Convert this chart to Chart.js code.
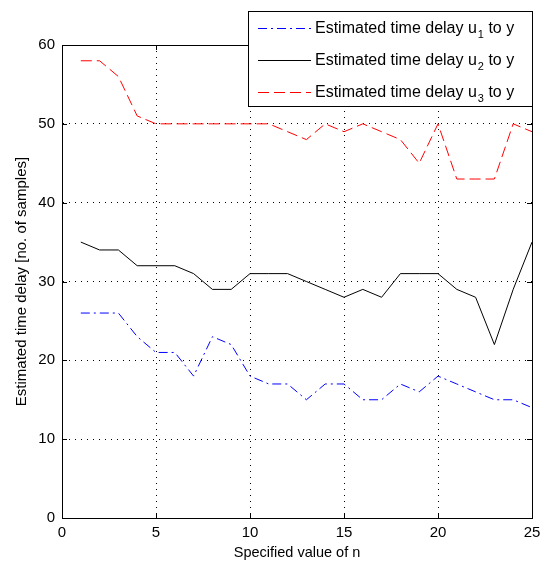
<!DOCTYPE html>
<html>
<head>
<meta charset="utf-8">
<script src="https://cdn.jsdelivr.net/npm/chart.js@4/dist/chart.umd.min.js"></script>
<style>
  html, body { margin: 0; padding: 0; background: #fff; }
  canvas { display: block; }
</style>
</head>
<body>
<canvas id="delayChart" width="549" height="566"></canvas>
<script>
// specified value of n
const nValues = [1, 2, 3, 4, 5, 6, 7, 8, 9, 10, 11, 12, 13, 14, 15, 16, 17, 18, 19, 20, 21, 22, 23, 24, 25];

// estimated time delays (no. of samples)
const delayU1 = [26, 26, 26, 23, 21, 21, 18, 23, 22, 18, 17, 17, 15, 17, 17, 15, 15, 17, 16, 18, 17, 16, 15, 15, 14];
const delayU2 = [35, 34, 34, 32, 32, 32, 31, 29, 29, 31, 31, 31, 30, 29, 28, 29, 28, 31, 31, 31, 29, 28, 22, 29, 35];
const delayU3 = [58, 58, 56, 51, 50, 50, 50, 50, 50, 50, 50, 49, 48, 50, 49, 50, 49, 48, 45, 50, 43, 43, 43, 50, 49];

const xTicks = [0, 5, 10, 15, 20, 25];
const yTicks = [0, 10, 20, 30, 40, 50, 60];

const FONT = 'Liberation Sans, Arial, Helvetica, sans-serif';

function toPoints(values) {
    return values.map((v, i) => ({ x: nValues[i], y: v }));
}

const seriesInfo = [
    { sub: '1', color: '#0000ff', dash: [9, 4, 2, 4] },
    { sub: '2', color: '#000000', dash: [] },
    { sub: '3', color: '#ff0000', dash: [11, 5] }
];

// box round the plot with inward tick marks (MATLAB style)
const boxPlugin = {
    id: 'boxPlugin',
    beforeDatasetsDraw(chart) {
        const { ctx, chartArea: a, scales } = chart;
        ctx.save();
        ctx.strokeStyle = '#000';
        ctx.lineWidth = 1;
        ctx.setLineDash([]);
        ctx.strokeRect(Math.round(a.left) + 0.5, Math.round(a.top) + 0.5,
            Math.round(a.right - a.left), Math.round(a.bottom - a.top));
        ctx.beginPath();
        xTicks.forEach(t => {
            const x = Math.round(scales.x.getPixelForValue(t)) + 0.5;
            ctx.moveTo(x, a.bottom); ctx.lineTo(x, a.bottom - 5);
            ctx.moveTo(x, a.top); ctx.lineTo(x, a.top + 5);
        });
        yTicks.forEach(t => {
            const y = Math.round(scales.y.getPixelForValue(t)) + 0.5;
            ctx.moveTo(a.left, y); ctx.lineTo(a.left + 5, y);
            ctx.moveTo(a.right, y); ctx.lineTo(a.right - 5, y);
        });
        ctx.stroke();
        ctx.restore();
    }
};

// legend box with subscripted labels
const legendPlugin = {
    id: 'subLegend',
    afterDraw(chart) {
        const ctx = chart.ctx;
        const bx = 248.5, by = 11.5, bw = 284, bh = 95;
        ctx.save();
        ctx.fillStyle = '#fff';
        ctx.fillRect(bx, by, bw, bh);
        ctx.strokeStyle = '#000';
        ctx.lineWidth = 1;
        ctx.strokeRect(bx, by, bw, bh);
        seriesInfo.forEach((s, i) => {
            const y = 28 + i * 32;
            ctx.strokeStyle = s.color;
            ctx.setLineDash(s.dash);
            ctx.beginPath();
            ctx.moveTo(258, y + 0.5);
            ctx.lineTo(311, y + 0.5);
            ctx.stroke();
            ctx.setLineDash([]);
            ctx.fillStyle = '#000';
            ctx.textBaseline = 'alphabetic';
            ctx.font = '16px ' + FONT;
            let x = 315;
            const base = y + 5;
            const main = 'Estimated time delay u';
            ctx.fillText(main, x, base);
            x += ctx.measureText(main).width + 1;
            ctx.font = '11px ' + FONT;
            ctx.fillText(s.sub, x, base + 5);
            x += ctx.measureText(s.sub).width;
            ctx.font = '16px ' + FONT;
            ctx.fillText(' to y', x, base);
        });
        ctx.restore();
    }
};

const datasets = [delayU1, delayU2, delayU3].map((vals, i) => ({
    label: 'Estimated time delay u' + seriesInfo[i].sub + ' to y',
    data: toPoints(vals),
    borderColor: seriesInfo[i].color,
    borderDash: seriesInfo[i].dash,
    borderWidth: 1,
    pointRadius: 0,
    fill: false,
    tension: 0
}));

new Chart(document.getElementById('delayChart'), {
    type: 'line',
    data: { datasets },
    options: {
        responsive: false,
        animation: false,
        layout: { padding: { top: 45, right: 17, left: 0, bottom: 0 } },
        plugins: {
            legend: { display: false },
            tooltip: { enabled: false }
        },
        scales: {
            x: {
                type: 'linear',
                min: 0,
                max: 25,
                afterFit: scale => { scale.height = 48; },
                afterBuildTicks: scale => { scale.ticks = xTicks.map(v => ({ value: v })); },
                ticks: { color: '#000', padding: 6, font: { family: FONT, size: 15 } },
                grid: { color: '#000', drawTicks: false, lineWidth: 1 },
                border: { color: '#000', dash: [1, 5] },
                title: {
                    display: true,
                    text: 'Specified value of n',
                    color: '#000',
                    font: { family: FONT, size: 14.5 },
                    padding: { top: 0, bottom: 4 }
                }
            },
            y: {
                min: 0,
                max: 60,
                afterFit: scale => { scale.width = 62; },
                afterBuildTicks: scale => { scale.ticks = yTicks.map(v => ({ value: v })); },
                ticks: { color: '#000', padding: 7, font: { family: FONT, size: 15 } },
                grid: { color: '#000', drawTicks: false, lineWidth: 1 },
                border: { color: '#000', dash: [1, 5] },
                title: {
                    display: true,
                    text: 'Estimated time delay [no. of samples]',
                    color: '#000',
                    font: { family: FONT, size: 15 },
                    padding: { top: 13, bottom: 0 }
                }
            }
        }
    },
    plugins: [boxPlugin, legendPlugin]
});
</script>
</body>
</html>
